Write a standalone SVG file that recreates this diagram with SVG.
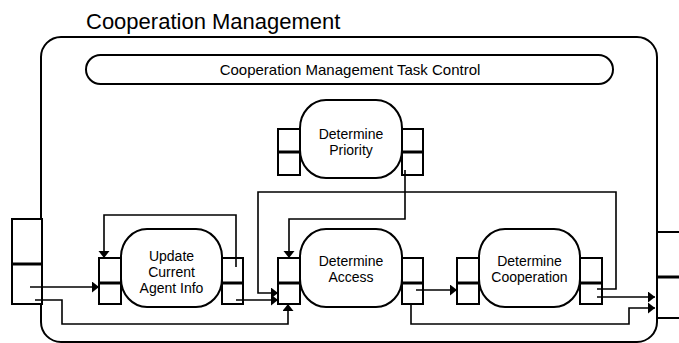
<svg xmlns="http://www.w3.org/2000/svg" width="679" height="343" viewBox="0 0 679 343">
<style>
.box{fill:#fff;stroke:#000;stroke-width:2}
.port{fill:#fff;stroke:#000;stroke-width:2}
.div{stroke:#000;stroke-width:3}
.ln{fill:none;stroke:#000;stroke-width:1.6}
.t{font-family:"Liberation Sans",Arial,sans-serif;font-size:14px;fill:#000;text-anchor:middle}
.tc{font-family:"Liberation Sans",Arial,sans-serif;font-size:15px;fill:#000;text-anchor:middle}
.title{font-family:"Liberation Sans",Arial,sans-serif;font-size:22px;fill:#000}
</style>
<defs>
<marker id="ah" markerUnits="userSpaceOnUse" markerWidth="8" markerHeight="12" refX="7" refY="5.5" orient="auto">
<path d="M0,0 L7,5.5 L0,11 z" fill="#000"/>
</marker>
</defs>
<text class="title" x="86" y="29">Cooperation Management</text>
<g id="frame">
<rect x="41" y="37" width="616" height="305" rx="20" ry="20" fill="#fff" stroke="#000" stroke-width="2"/>
</g>
<g id="ext-left-port">
<rect class="port" x="12" y="219" width="30" height="85"/>
<line class="div" x1="12" y1="264" x2="42" y2="264"/>
</g>
<g id="ext-right-port">
<rect class="port" x="657" y="232" width="40" height="86"/>
<line class="div" x1="657" y1="277" x2="679" y2="277"/>
</g>
<g id="task-control">
<rect class="box" x="86" y="55" width="527" height="29" rx="14.5" ry="14.5"/>
<text class="tc" x="350" y="75">Cooperation Management Task Control</text>
</g>
<g id="priority">
<rect class="port" x="278" y="129" width="22" height="46"/>
<line class="div" x1="278" y1="152" x2="300" y2="152"/>
<rect class="port" x="402" y="129" width="21" height="46"/>
<line class="div" x1="402" y1="152" x2="423" y2="152"/>
<rect class="box" x="300" y="100" width="102" height="78" rx="26" ry="28"/>
<text class="t" x="351" y="139">Determine</text>
<text class="t" x="351" y="155">Priority</text>
</g>
<g id="update">
<rect class="port" x="99" y="258" width="22" height="46"/>
<line class="div" x1="99" y1="283" x2="121" y2="283"/>
<rect class="port" x="222" y="258" width="21" height="46"/>
<line class="div" x1="222" y1="283" x2="243" y2="283"/>
<rect class="box" x="121" y="229" width="101" height="78" rx="26" ry="28"/>
<text class="t" x="171.5" y="261">Update</text>
<text class="t" x="171.5" y="277">Current</text>
<text class="t" x="171.5" y="293">Agent Info</text>
</g>
<g id="access">
<rect class="port" x="278" y="258" width="22" height="46"/>
<line class="div" x1="278" y1="283" x2="300" y2="283"/>
<rect class="port" x="402" y="258" width="21" height="46"/>
<line class="div" x1="402" y1="283" x2="423" y2="283"/>
<rect class="box" x="300" y="229" width="102" height="78" rx="26" ry="28"/>
<text class="t" x="351" y="266">Determine</text>
<text class="t" x="351" y="282">Access</text>
</g>
<g id="cooperation">
<rect class="port" x="457" y="258" width="22" height="46"/>
<line class="div" x1="457" y1="283" x2="479" y2="283"/>
<rect class="port" x="580" y="258" width="22" height="46"/>
<line class="div" x1="580" y1="283" x2="602" y2="283"/>
<rect class="box" x="479" y="229" width="101" height="78" rx="26" ry="28"/>
<text class="t" x="529.5" y="266">Determine</text>
<text class="t" x="529.5" y="282">Cooperation</text>
</g>
<g id="connectors">
<path class="ln" d="M30,287 H99" marker-end="url(#ah)"/>
<path class="ln" d="M35,300 H62 V324 H288 V304" marker-end="url(#ah)"/>
<path class="ln" d="M236,267 V215 H104 V258" marker-end="url(#ah)"/>
<path class="ln" d="M236,300 H278" marker-end="url(#ah)"/>
<path class="ln" d="M597,289 H616 V192 H258 V293 H278" marker-end="url(#ah)"/>
<path class="ln" d="M405,170 V219 H289 V258" marker-end="url(#ah)"/>
<path class="ln" d="M416,290 H457" marker-end="url(#ah)"/>
<path class="ln" d="M411,303 V324 H629 V308 H655" marker-end="url(#ah)"/>
<path class="ln" d="M597,297 H655" marker-end="url(#ah)"/>
</g>
</svg>
